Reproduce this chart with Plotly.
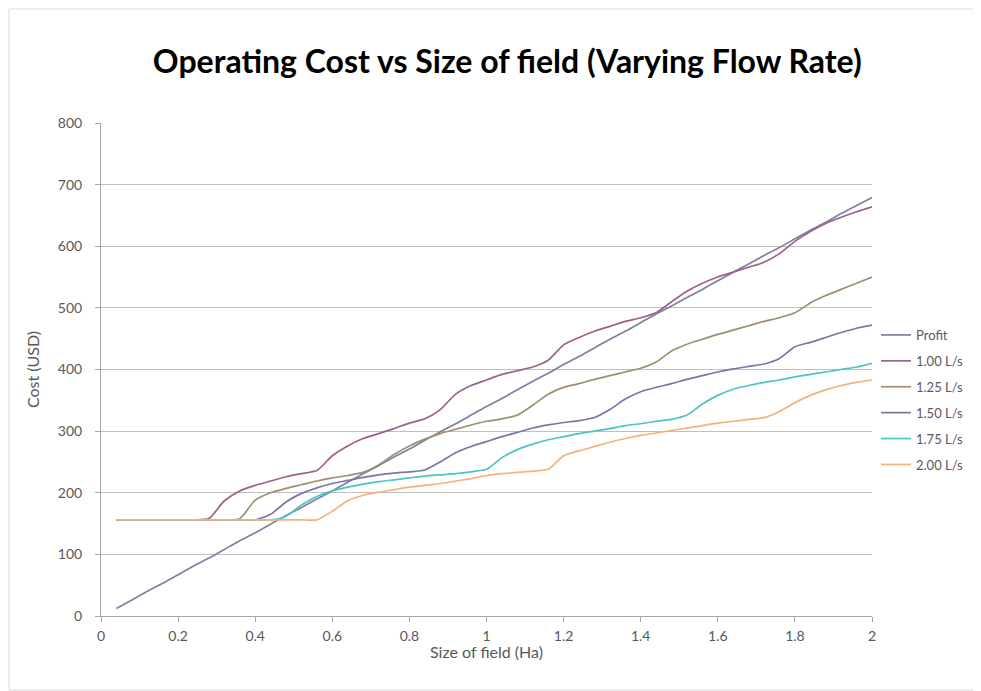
import plotly.graph_objects as go

size_ha = [0.04, 0.08, 0.12, 0.16, 0.20, 0.24, 0.28, 0.32, 0.36, 0.40,
           0.44, 0.48, 0.52, 0.56, 0.60, 0.64, 0.68, 0.72, 0.76, 0.80,
           0.84, 0.88, 0.92, 0.96, 1.00, 1.04, 1.08, 1.12, 1.16, 1.20,
           1.24, 1.28, 1.32, 1.36, 1.40, 1.44, 1.48, 1.52, 1.56, 1.60,
           1.64, 1.68, 1.72, 1.76, 1.80, 1.84, 1.88, 1.92, 1.96, 2.00]

profit = [12, 26, 40, 53, 67, 81, 94, 108, 122, 135,
          149, 163, 176, 190, 203, 217, 231, 244, 258, 271,
          285, 299, 312, 326, 340, 353, 367, 381, 394, 408,
          421, 435, 449, 462, 476, 490, 503, 517, 530, 544,
          558, 571, 585, 598, 612, 626, 639, 653, 666, 679]

flow_100 = [156, 156, 156, 156, 156, 156, 158, 187, 203, 212,
            219, 226, 231, 236, 260, 276, 288, 296, 304, 313,
            320, 335, 360, 374, 383, 392, 398, 404, 415, 440,
            452, 462, 470, 478, 484, 492, 510, 527, 540, 550,
            558, 566, 574, 588, 608, 624, 637, 647, 656, 664]

flow_125 = [156, 156, 156, 156, 156, 156, 156, 156, 158, 188,
            200, 207, 213, 219, 224, 228, 233, 245, 262, 276,
            287, 296, 303, 310, 316, 320, 326, 342, 360, 371,
            377, 384, 390, 396, 402, 412, 430, 441, 449, 457,
            464, 471, 478, 484, 492, 508, 520, 530, 540, 550]

flow_150 = [156, 156, 156, 156, 156, 156, 156, 156, 156, 156,
            165, 185, 199, 208, 215, 220, 225, 229, 232, 234,
            237, 250, 265, 275, 283, 291, 298, 305, 310, 314,
            317, 322, 335, 352, 364, 371, 377, 384, 390, 396,
            401, 405, 409, 418, 437, 444, 452, 460, 467, 472]

flow_175 = [156, 156, 156, 156, 156, 156, 156, 156, 156, 156,
            156, 162, 180, 194, 203, 209, 214, 218, 221, 224,
            227, 229, 231, 234, 238, 257, 270, 279, 286, 291,
            296, 300, 304, 309, 312, 316, 319, 326, 344, 358,
            368, 374, 379, 383, 388, 392, 396, 400, 404, 410]

flow_200 = [156, 156, 156, 156, 156, 156, 156, 156, 156, 156,
            156, 156, 156, 156, 170, 187, 196, 201, 205, 209,
            212, 215, 219, 223, 228, 231, 233, 235, 238, 260,
            268, 275, 282, 288, 293, 297, 301, 305, 309, 313,
            316, 319, 322, 332, 346, 358, 367, 374, 379, 383]

series_names = ["Profit", "1.00 L/s", "1.25 L/s", "1.50 L/s", "1.75 L/s", "2.00 L/s"]
series_values = [profit, flow_100, flow_125, flow_150, flow_175, flow_200]
series_colors = ["#7F7FA0", "#A0608C", "#9E8F70", "#7E74A8", "#4CC4C4", "#F4B27A"]

x_ticks = [0, 0.2, 0.4, 0.6, 0.8, 1, 1.2, 1.4, 1.6, 1.8, 2]
x_tick_labels = ["0", "0.2", "0.4", "0.6", "0.8", "1", "1.2", "1.4", "1.6", "1.8", "2"]
y_ticks = [0, 100, 200, 300, 400, 500, 600, 700, 800]

fig = go.Figure()
for i, (name, vals, col) in enumerate(zip(series_names, series_values, series_colors)):
    fig.add_trace(go.Scatter(
        x=size_ha, y=vals, name=name, mode="lines",
        line=dict(color=col, width=1.7, shape="spline", smoothing=0.6),
        legendgroup="g%d" % i,
    ))

font_family = "Lato, Open Sans, Liberation Sans, sans-serif"
grey = "#595959"

W, H = 973, 683   # page body has an 8px margin; figure sized/offset to compensate
PW = 771          # plot width in px
PH = 493          # plot height in px
L, T = 93, 115

fig.update_layout(
    width=W, height=H,
    margin=dict(l=L, r=W - L - PW, t=T, b=H - T - PH, autoexpand=False),
    paper_bgcolor="white", plot_bgcolor="white",
    title=dict(text="<b>Operating Cost vs Size of field (Varying Flow Rate)</b>",
               xref="paper", x=0.527, xanchor="center", y=1 - 54 / H, yanchor="middle",
               font=dict(family=font_family, size=32, color="#000000")),
    font=dict(family=font_family, size=13, color=grey),
    xaxis=dict(range=[0, 2], tickmode="array", tickvals=x_ticks, ticktext=x_tick_labels,
               showgrid=False, zeroline=False, showline=True, linecolor="#A6A6A6",
               linewidth=1, ticks="outside", ticklen=5, tickcolor="#A6A6A6",
               ticklabelstandoff=2, automargin=False,
               tickfont=dict(size=14, color=grey)),
    yaxis=dict(range=[0, 800], tickmode="array", tickvals=y_ticks,
               showgrid=True, gridcolor="#BFBFBF", gridwidth=1.2, zeroline=False,
               showline=True, linecolor="#A6A6A6", linewidth=1,
               ticks="outside", ticklen=5, tickcolor="#A6A6A6",
               ticklabelstandoff=10, automargin=False,
               tickfont=dict(size=14, color=grey),
               title=dict(text="Cost (USD)", font=dict(size=16, color=grey), standoff=14)),
    legend=dict(xref="container", x=868 / W, xanchor="left",
                yref="paper", y=1 - (320 - 123) / PH, yanchor="top",
                font=dict(size=13, color=grey), tracegroupgap=6,
                bgcolor="rgba(0,0,0,0)", itemwidth=30),
    showlegend=True,
)

# x-axis title placed precisely below the tick labels
fig.add_annotation(text="Size of field (Ha)", xref="paper", yref="paper",
                   x=0.5, y=-35 / PH, xanchor="center", yanchor="middle",
                   showarrow=False, font=dict(family=font_family, size=16, color=grey))

# chart-area border
fig.add_shape(type="rect", xref="paper", yref="paper",
              x0=-(L - 1) / PW, x1=1 + (W - L - PW - 2) / PW,
              y0=-(H - T - PH - 1) / PH, y1=1 + (T - 1) / PH,
              line=dict(color="#D9D9D9", width=1), fillcolor="rgba(0,0,0,0)")

fig.write_html("out.html")
